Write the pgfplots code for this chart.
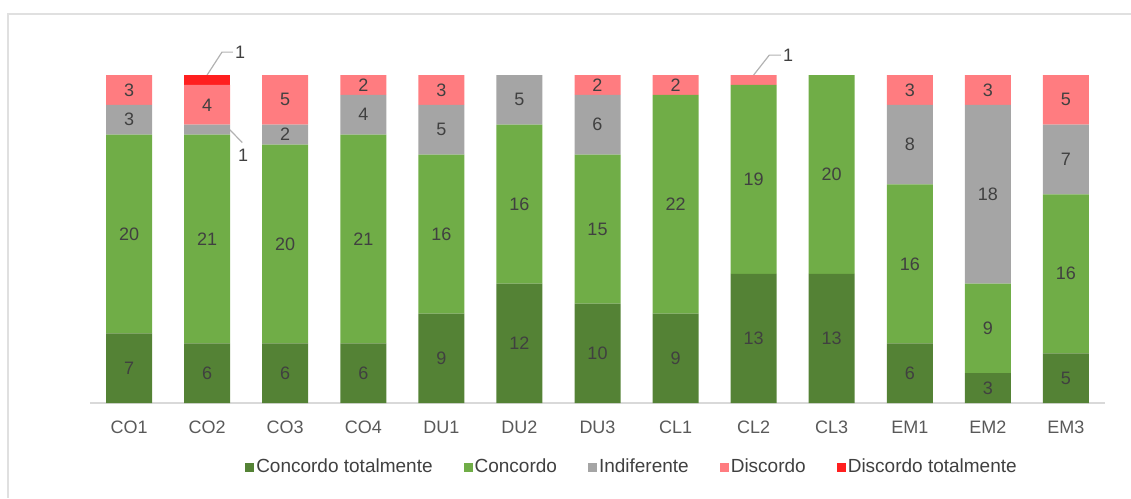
\documentclass[border=0pt]{standalone}
\usepackage{pgfplots}
\pgfplotsset{compat=1.18}
\usepackage{pgfplotstable}
\usepackage{fontspec}
\setmainfont{Liberation Sans}
\definecolor{cdg}{HTML}{548235}
\definecolor{cg}{HTML}{70AD47}
\definecolor{cgr}{HTML}{A5A5A5}
\definecolor{cpk}{HTML}{FF7C80}
\definecolor{crd}{HTML}{FF1F1F}
\definecolor{txt}{HTML}{404040}
\definecolor{tick}{HTML}{595959}
\pgfplotstableread{
x ct c ind dis dt
0 7 20 3 3 0
1 6 21 1 4 1
2 6 20 2 5 0
3 6 21 4 2 0
4 9 16 5 3 0
5 12 16 5 0 0
6 10 15 6 2 0
7 9 22 0 2 0
8 13 19 0 1 0
9 13 20 0 0 0
10 6 16 8 3 0
11 3 9 18 3 0
12 5 16 7 5 0
}\datatable
\begin{document}
\fontsize{18}{21}\selectfont
\begin{tikzpicture}[x=1pt,y=1pt]
\useasboundingbox (0,0) rectangle (1131,498);
\draw[color=black!12, line width=1.2pt] (8,0) -- (8,484) -- (1131,484);
\begin{axis}[
  at={(90pt,95pt)}, anchor=south west,
  scale only axis, width=1015pt, height=328pt,
  ybar stacked, bar width=46pt,
  xmin=-0.5, xmax=12.5, ymin=0, ymax=33,
  clip=false,
  axis y line=none,
  axis x line*=bottom,
  x axis line style={draw=black!15, line width=1.2pt, -},
  xtick=data,
  xticklabels={CO1,CO2,CO3,CO4,DU1,DU2,DU3,CL1,CL2,CL3,EM1,EM2,EM3},
  xtick style={draw=none},
  x tick label style={text=tick, font=\fontsize{18}{21}\selectfont, yshift=-12pt},
  every axis plot/.append style={draw=none},
  /pgf/number format/assume math mode=true,
  visualization depends on=rawy \as \segh,
  nodes near coords={\ifdim\segh pt>1.5pt \pgfmathprintnumber{\segh}\fi},
  every node near coord/.append style={anchor=center, text=txt, font=\fontsize{18}{21}\selectfont},
  legend style={at={(542pt,-64pt)}, anchor=center, draw=none, fill=none,
    legend columns=5, font=\fontsize{19}{22}\selectfont, text=txt,
    /tikz/every even column/.append style={column sep=29pt}},
  legend cell align=left,
  legend image code/.code={\fill[#1] (0pt,-4.5pt) rectangle (9pt,4.5pt);},
]
\addplot[fill=cdg] table[x=x,y=ct] {\datatable};
\addplot[fill=cg] table[x=x,y=c] {\datatable};
\addplot[fill=cgr] table[x=x,y=ind] {\datatable};
\addplot[fill=cpk] table[x=x,y=dis] {\datatable};
\addplot[fill=crd] table[x=x,y=dt] {\datatable};
\legend{Concordo totalmente,Concordo,Indiferente,Discordo,Discordo totalmente}
\draw[black!30, line width=1.2pt] (axis cs:1,33) -- (axis cs:1.19,35.3) -- (axis cs:1.33,35.3);
\node[anchor=west, text=txt, inner sep=2pt] at (axis cs:1.33,35.3) {1};
\draw[black!30, line width=1.2pt] (axis cs:1.29,27.5) -- (axis cs:1.45,26.2);
\node[anchor=north, text=txt, inner sep=2pt] at (axis cs:1.46,25.8) {1};
\draw[black!30, line width=1.2pt] (axis cs:8,33) -- (axis cs:8.2,35) -- (axis cs:8.35,35);
\node[anchor=west, text=txt, inner sep=2pt] at (axis cs:8.35,35) {1};
\end{axis}
\end{tikzpicture}
\end{document}
